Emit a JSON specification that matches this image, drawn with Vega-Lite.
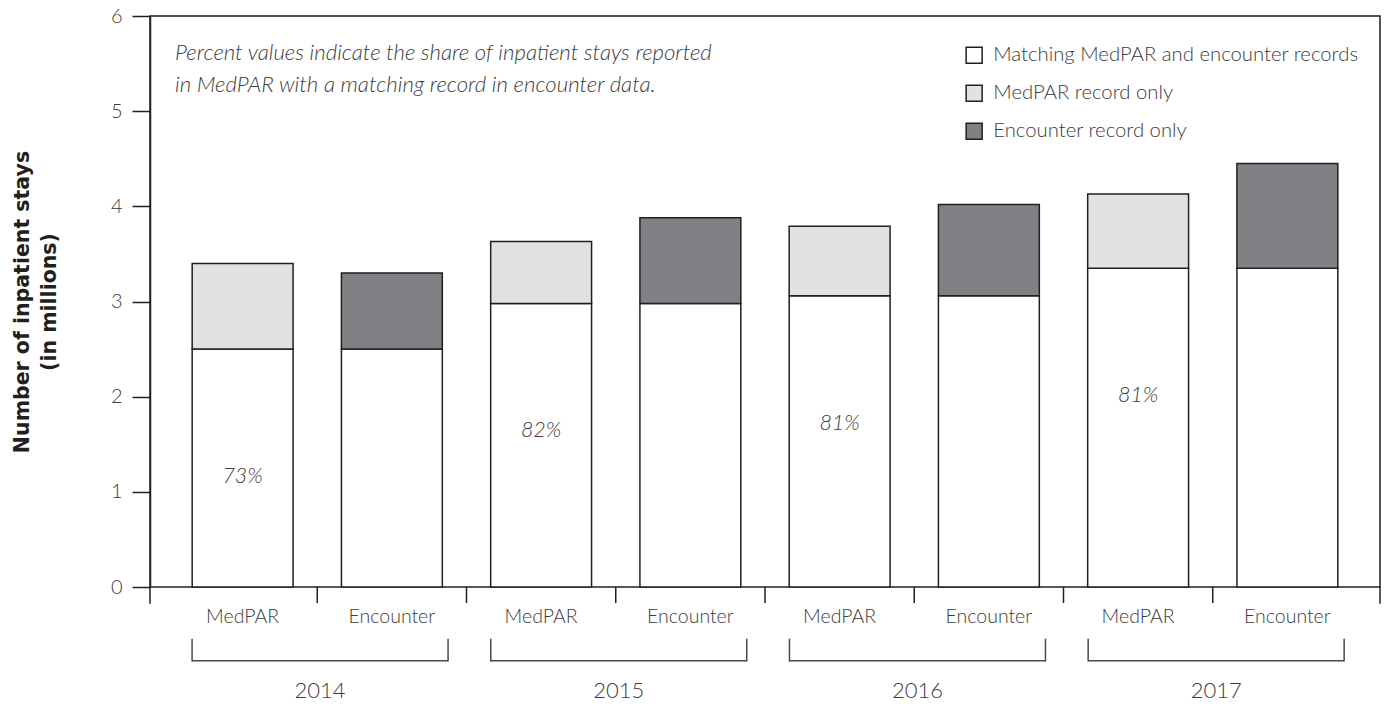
{
  "$schema": "https://vega.github.io/schema/vega-lite/v6.json",
  "width": 1230,
  "height": 571,
  "autosize": {"type": "none"},
  "padding": {"left": 150, "top": 16, "right": 4, "bottom": 117},
  "background": "white",
  "config": {
    "font": "Lato",
    "view": {"stroke": "#231f20", "strokeWidth": 1.5},
    "axis": {"labelFont": "Lato", "titleFont": "Lato", "grid": false}
  },
  "datasets": {
    "stays": [
      {"year": "2014", "source": "MedPAR", "bar": "2014 MedPAR", "matching": 2.5, "total": 3.4, "other": "MedPAR record only", "pct": "73%"},
      {"year": "2014", "source": "Encounter", "bar": "2014 Encounter", "matching": 2.5, "total": 3.3, "other": "Encounter record only", "pct": null},
      {"year": "2015", "source": "MedPAR", "bar": "2015 MedPAR", "matching": 2.98, "total": 3.63, "other": "MedPAR record only", "pct": "82%"},
      {"year": "2015", "source": "Encounter", "bar": "2015 Encounter", "matching": 2.98, "total": 3.88, "other": "Encounter record only", "pct": null},
      {"year": "2016", "source": "MedPAR", "bar": "2016 MedPAR", "matching": 3.06, "total": 3.79, "other": "MedPAR record only", "pct": "81%"},
      {"year": "2016", "source": "Encounter", "bar": "2016 Encounter", "matching": 3.06, "total": 4.02, "other": "Encounter record only", "pct": null},
      {"year": "2017", "source": "MedPAR", "bar": "2017 MedPAR", "matching": 3.35, "total": 4.13, "other": "MedPAR record only", "pct": "81%"},
      {"year": "2017", "source": "Encounter", "bar": "2017 Encounter", "matching": 3.35, "total": 4.45, "other": "Encounter record only", "pct": null}
    ],
    "years": [
      {"year": "2014"}, {"year": "2015"}, {"year": "2016"}, {"year": "2017"}
    ]
  },
  "layer": [
    {
      "data": {"name": "stays"},
      "layer": [
        {
          "mark": {"type": "bar", "width": {"band": 0.676}, "stroke": "#231f20", "strokeWidth": 1.5, "opacity": 1},
          "encoding": {
            "x": {
              "field": "bar", "type": "nominal",
              "scale": {"domain": ["2014 MedPAR", "2014 Encounter", "2015 MedPAR", "2015 Encounter", "2016 MedPAR", "2016 Encounter", "2017 MedPAR", "2017 Encounter"], "paddingInner": 0, "paddingOuter": 0.1206},
              "axis": {"title": null, "labelExpr": "split(datum.label, ' ')[1]", "labelAngle": 0, "ticks": false, "domain": false, "labelPadding": 20, "labelFontSize": 19.5, "labelColor": "#3c3c3c", "labelFontWeight": 300}
            },
            "y": {
              "field": "matching", "type": "quantitative",
              "scale": {"domain": [0, 6], "nice": false},
              "axis": {"title": ["Number of inpatient stays", "(in millions)"], "values": [0, 1, 2, 3, 4, 5, 6], "format": "d", "tickSize": 18, "tickColor": "#231f20", "tickWidth": 1.5, "domainColor": "#231f20", "domainWidth": 1.5, "labelFontSize": 20, "labelColor": "#3c3c3c", "labelFontWeight": 300, "labelPadding": 10, "titleFont": "DejaVu Sans", "titleFontSize": 20.5, "titleFontWeight": "bold", "titleColor": "#231f20", "titlePadding": 51, "titleLineHeight": 27}
            },
            "color": {
              "datum": "Matching MedPAR and encounter records", "type": "nominal",
              "scale": {"domain": ["Matching MedPAR and encounter records", "MedPAR record only", "Encounter record only"], "range": ["#ffffff", "#e1e2e4", "#808184"]},
              "legend": {"orient": "none", "legendX": 814, "legendY": 29, "title": null, "labelLimit": 0, "symbolType": "square", "symbolSize": 256, "symbolStrokeColor": "#231f20", "symbolStrokeWidth": 1.5, "symbolOpacity": 1, "labelFontSize": 20.3, "labelColor": "#3c3c3c", "labelFontWeight": 300, "rowPadding": 15, "labelOffset": 9}
            }
          }
        },
        {
          "mark": {"type": "bar", "width": {"band": 0.676}, "stroke": "#231f20", "strokeWidth": 1.5, "opacity": 1},
          "encoding": {
            "x": {"field": "bar", "type": "nominal"},
            "y": {"field": "total", "type": "quantitative", "scale": {"domain": [0, 6]}},
            "y2": {"field": "matching"},
            "color": {
              "field": "other", "type": "nominal",
              "legend": {"orient": "none", "legendX": 814, "legendY": 29, "title": null, "labelLimit": 0, "symbolType": "square", "symbolSize": 256, "symbolStrokeColor": "#231f20", "symbolStrokeWidth": 1.5, "symbolOpacity": 1, "labelFontSize": 20.3, "labelColor": "#3c3c3c", "labelFontWeight": 300, "rowPadding": 15, "labelOffset": 9}
            }
          }
        },
        {
          "transform": [{"filter": "datum.source == 'MedPAR'"}],
          "mark": {"type": "text", "dy": 128, "baseline": "middle", "align": "center", "fontSize": 21.5, "fontStyle": "italic", "fontWeight": 300, "color": "#3c3c3c"},
          "encoding": {
            "x": {"field": "bar", "type": "nominal"},
            "y": {"field": "matching", "type": "quantitative", "scale": {"domain": [0, 6]}},
            "text": {"field": "pct"}
          }
        },
        {
          "transform": [{"filter": "datum.bar != '2014 MedPAR'"}],
          "mark": {"type": "rule", "color": "#231f20", "strokeWidth": 1.5},
          "encoding": {
            "x": {"field": "bar", "type": "nominal", "bandPosition": 0},
            "y": {"datum": 0, "scale": {"domain": [0, 6]}},
            "y2": {"datum": -0.168}
          }
        },
        {
          "data": {"values": [{"edge": "left"}]},
          "mark": {"type": "rule", "color": "#231f20", "strokeWidth": 1.5},
          "encoding": {
            "x": {"datum": "2014 MedPAR", "type": "nominal", "bandPosition": -0.1206},
            "y": {"datum": 0, "scale": {"domain": [0, 6]}},
            "y2": {"datum": -0.175}
          }
        },
        {
          "data": {"values": [{"edge": "right"}]},
          "mark": {"type": "rule", "color": "#231f20", "strokeWidth": 1.5},
          "encoding": {
            "x": {"datum": "2017 Encounter", "type": "nominal", "bandPosition": 1.1206},
            "y": {"datum": 0, "scale": {"domain": [0, 6]}},
            "y2": {"datum": -0.175}
          }
        },
        {
          "data": {"values": [{"note": "Percent values indicate the share of inpatient stays reported\nin MedPAR with a matching record in encounter data."}]},
          "mark": {"type": "text", "align": "left", "baseline": "top", "fontSize": 22.2, "fontStyle": "italic", "fontWeight": 300, "color": "#3c3c3c", "lineBreak": "\n", "lineHeight": 32},
          "encoding": {
            "x": {"datum": "2014 MedPAR", "type": "nominal", "bandPosition": 0.047},
            "y": {"datum": 5.73, "scale": {"domain": [0, 6]}},
            "text": {"field": "note"}
          }
        }
      ]
    },
    {
      "data": {"name": "years"},
      "encoding": {
        "x": {
          "field": "year", "type": "nominal",
          "scale": {"paddingInner": 0.143, "paddingOuter": 0.1305, "align": 0.54},
          "axis": {"orient": "bottom", "offset": 90, "title": null, "labelAngle": 0, "ticks": false, "domain": false, "labelPadding": 3, "labelFontSize": 22, "labelColor": "#3c3c3c", "labelFontWeight": 300}
        }
      },
      "layer": [
        {
          "mark": {"type": "bar", "color": "#4a4a4a"},
          "encoding": {
            "y": {"datum": -0.768, "scale": {"domain": [0, 6]}},
            "y2": {"datum": -0.784}
          }
        },
        {
          "mark": {"type": "rule", "color": "#4a4a4a", "strokeWidth": 1.5},
          "encoding": {
            "x": {"field": "year", "type": "nominal", "bandPosition": 0},
            "y": {"datum": -0.543, "scale": {"domain": [0, 6]}},
            "y2": {"datum": -0.784}
          }
        },
        {
          "mark": {"type": "rule", "color": "#4a4a4a", "strokeWidth": 1.5},
          "encoding": {
            "x": {"field": "year", "type": "nominal", "bandPosition": 1},
            "y": {"datum": -0.543, "scale": {"domain": [0, 6]}},
            "y2": {"datum": -0.784}
          }
        }
      ]
    }
  ],
  "resolve": {"scale": {"x": "independent"}, "axis": {"x": "independent"}}
}
